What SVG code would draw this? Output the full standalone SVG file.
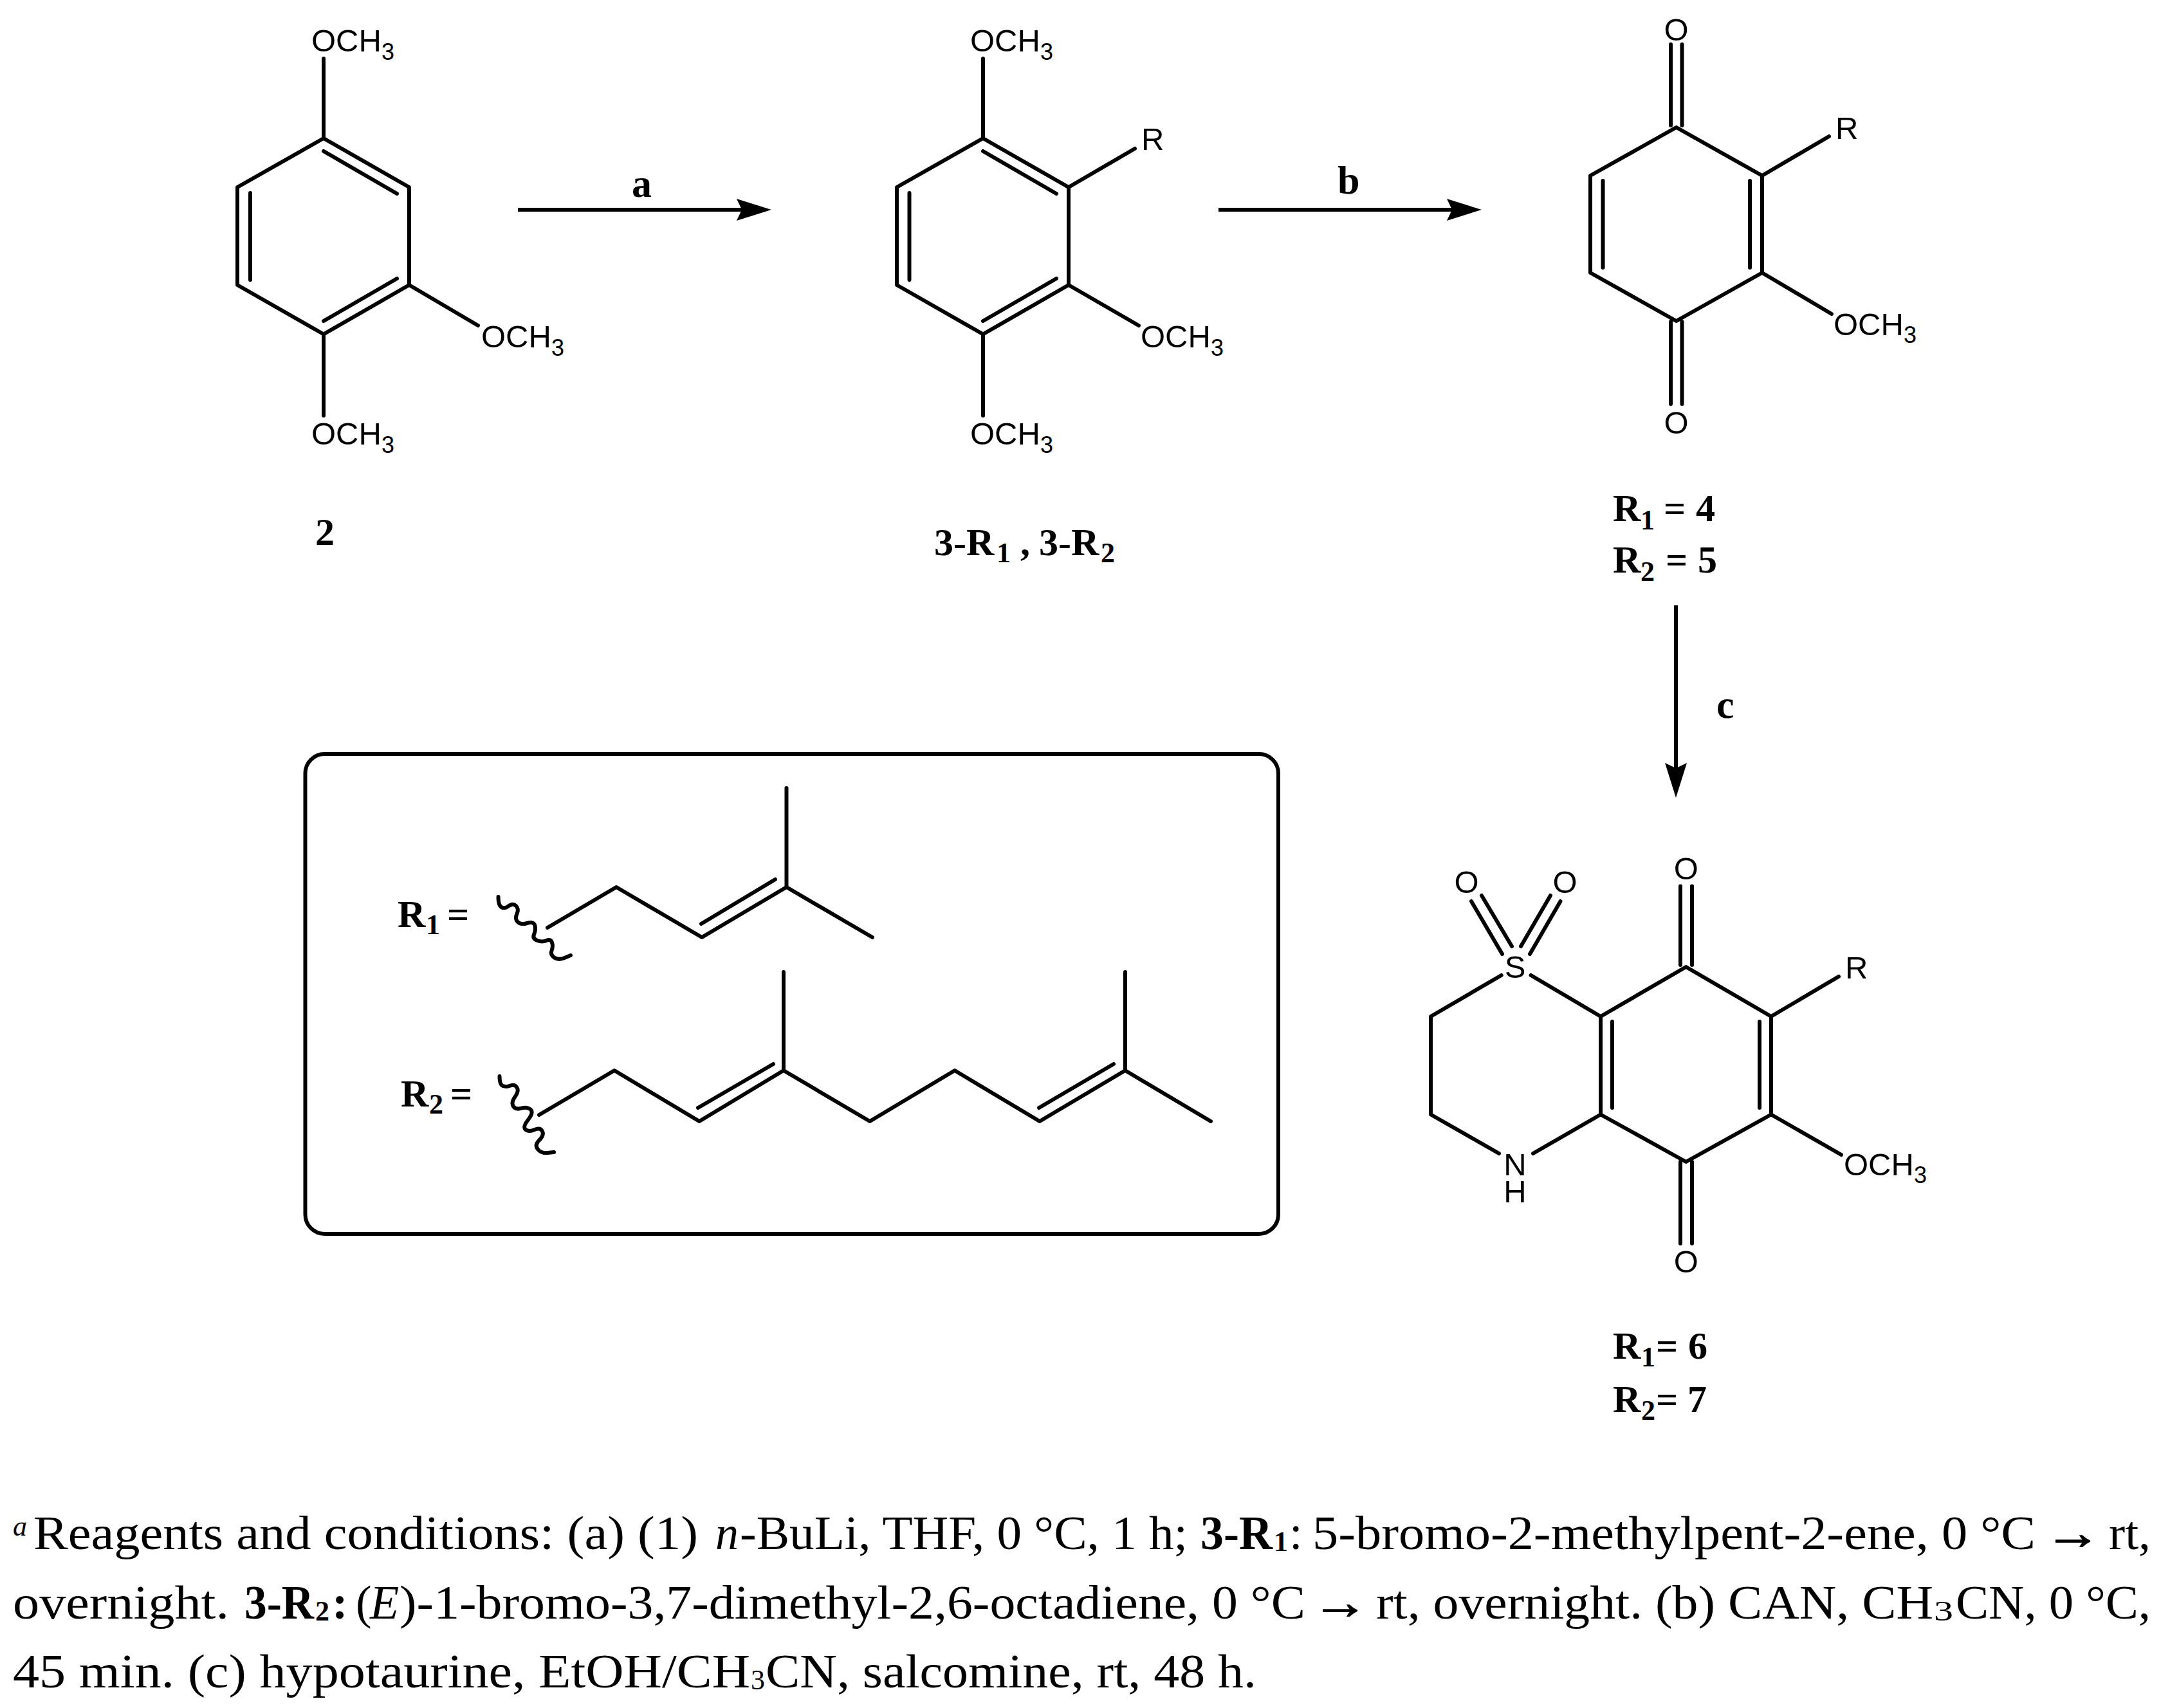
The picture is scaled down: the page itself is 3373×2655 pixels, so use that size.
<svg xmlns="http://www.w3.org/2000/svg" width="3373" height="2655" viewBox="0 0 3373 2655">
<style>
.b{fill:none;stroke:#000;stroke-width:6;stroke-linecap:round;stroke-linejoin:round}
.a{fill:none;stroke:#000;stroke-width:6;marker-end:url(#head)}
.t{font-family:"Liberation Sans",Arial,sans-serif;font-size:49px;fill:#000}
.t .s{font-size:36px}
.l{font-family:"Liberation Serif","Times New Roman",serif;font-size:60px;font-weight:700;fill:#000}
.l .s{font-size:44px}
.r{font-size:62px}
.c{font-family:"Liberation Serif","Times New Roman",serif;font-size:74px;fill:#000}
.c .i{font-style:italic}
.c .w{font-weight:700}
.c .s{font-size:44px}
.c .h{font-size:44px;font-style:italic}
.c .ar{stroke:#000;stroke-width:1.6}
</style>
<defs>
<marker id="head" markerUnits="userSpaceOnUse" viewBox="0 0 54 34" refX="34" refY="17" markerWidth="54" markerHeight="34" orient="auto"><path d="M0,0 L54,17 L0,34 L8,17 Z" fill="#000"/></marker>
</defs>
<rect width="3373" height="2655" fill="#fff"/>

<g id="connectors">
<path class="a" d="M805,326 H1179"/>
<path class="a" d="M1894,326 H2283"/>
<path class="a" d="M2605,941 V1220"/>
</g>
<g id="arrow-labels">
<text class="l r" x="982" y="306">a</text>
<text class="l r" x="2079" y="301">b</text>
<text class="l r" x="2668" y="1116">c</text>
</g>

<g id="node-2">
<path class="b" d="M503,91 V215 L636,291 V443 L503,519.5 L369,443 V291 L503,215 M503,235 L617,301 M389,300 V435 M503,499 L617,433 M503,519.5 V646 M636,443 L743,506"/>
<text class="t" x="484" y="80">OCH<tspan class="s" dy="13">3</tspan></text>
<text class="t" x="748" y="540">OCH<tspan class="s" dy="13">3</tspan></text>
<text class="t" x="484" y="691">OCH<tspan class="s" dy="13">3</tspan></text>
<text class="l" x="490" y="847">2</text>
</g>

<g id="node-3">
<path class="b" d="M1528,91 V215 L1661,291 V443 L1528,519.5 L1394,443 V291 L1528,215 M1528,235 L1642,301 M1413.5,300 V435 M1528,499 L1642,433 M1528,519.5 V646 M1661,443 L1770,506 M1661,291 L1764,231"/>
<text class="t" x="1508" y="80">OCH<tspan class="s" dy="13">3</tspan></text>
<text class="t" x="1774" y="233">R</text>
<text class="t" x="1773" y="540">OCH<tspan class="s" dy="13">3</tspan></text>
<text class="t" x="1508" y="691">OCH<tspan class="s" dy="13">3</tspan></text>
<text class="l" x="1452" y="863">3-R<tspan class="s" x="1549" dy="11">1</tspan><tspan x="1586" dy="-11">,</tspan><tspan x="1615">3-R</tspan><tspan class="s" x="1711" dy="11">2</tspan></text>
</g>

<g id="node-4-5">
<path class="b" d="M2605.6,198 L2739,273 V424 L2605.6,499 L2472,424 V273 Z M2491.5,281 V416 M2720,281 V416 M2597,69 V195 M2614.5,69 V195 M2597,500 V628 M2614.5,500 V628 M2739,273 L2843,212 M2739,424 L2847,488"/>
<text class="t" x="2605.6" y="63" text-anchor="middle">O</text>
<text class="t" x="2605.6" y="674" text-anchor="middle">O</text>
<text class="t" x="2853" y="216">R</text>
<text class="t" x="2850" y="521">OCH<tspan class="s" dy="12">3</tspan></text>
<text class="l" x="2507" y="810">R<tspan class="s" x="2550" dy="13">1</tspan><tspan x="2586" dy="-13">=</tspan><tspan x="2636">4</tspan></text>
<text class="l" x="2507" y="890">R<tspan class="s" x="2550" dy="13">2</tspan><tspan x="2589" dy="-13">=</tspan><tspan x="2639">5</tspan></text>
</g>

<g id="node-6-7">
<path class="b" d="M2620.7,1503 L2753,1580 V1732.5 L2620.7,1806 L2488,1732.5 V1580 Z M2506,1588 V1722 M2735,1588 V1722 M2379.6,1516 L2488,1580 M2333.7,1516 L2224,1580 V1732.5 L2330,1793 M2383,1793 L2488,1732.5 M2287,1401 L2335,1483 M2303,1392 L2350,1471 M2410,1392 L2364,1471 M2425.5,1401 L2378,1483 M2612,1377.5 V1500 M2630,1377.5 V1500 M2612,1806 V1933 M2630,1806 V1933 M2753,1580 L2858,1518 M2753,1732.5 L2862,1795"/>
<text class="t" x="2355" y="1520" text-anchor="middle">S</text>
<text class="t" x="2279.5" y="1388" text-anchor="middle">O</text>
<text class="t" x="2432.5" y="1388" text-anchor="middle">O</text>
<text class="t" x="2620.7" y="1367" text-anchor="middle">O</text>
<text class="t" x="2620.7" y="1978" text-anchor="middle">O</text>
<text class="t" x="2355" y="1827" text-anchor="middle">N<tspan x="2355" dy="42">H</tspan></text>
<text class="t" x="2868" y="1521">R</text>
<text class="t" x="2866" y="1827">OCH<tspan class="s" dy="12">3</tspan></text>
<text class="l" x="2507" y="2112">R<tspan class="s" x="2551" dy="12">1</tspan><tspan x="2574" dy="-12">=</tspan><tspan x="2624">6</tspan></text>
<text class="l" x="2507" y="2195">R<tspan class="s" x="2551" dy="12">2</tspan><tspan x="2574" dy="-12">=</tspan><tspan x="2623">7</tspan></text>
</g>

<g id="node-r-box">
<rect class="b" x="474.5" y="1172" width="1512.5" height="746" rx="30" ry="30"/>
<text class="l" x="618" y="1441">R<tspan class="s" x="662" dy="11">1</tspan><tspan x="695" dy="-11">=</tspan></text>
<path class="b" d="M851,1442 L958,1379 L1091,1457 L1222.5,1379 V1225 M1222.5,1379 L1356,1457 M1090,1436 L1205,1367"/>
<path class="b" d="M774.5,1394 Q774.5,1408 780,1410.5 Q785,1413 791,1408 Q797,1403.6 802,1408 Q807,1413 803.5,1420.5 Q800,1428 804.5,1433 Q809,1438 819.5,1435 Q830,1432 831.5,1439 Q833,1446 830,1452.5 Q827.5,1459 835,1462 Q843,1465 849.5,1462 Q856,1459 858,1465 Q860,1471 857.5,1477.5 Q855,1484 861.5,1488.5 Q868,1493 877.5,1489 L887,1485"/>
<text class="l" x="623" y="1720">R<tspan class="s" x="667" dy="11">2</tspan><tspan x="700" dy="-11">=</tspan></text>
<path class="b" d="M838,1733 L955,1664 L1087,1743 L1218,1664 V1511 M1218,1664 L1352,1743 L1484,1664 L1616,1743 L1749,1664 V1511 M1749,1664 L1882,1743 M1085,1722 L1202,1654 M1615,1722 L1731,1654"/>
<path class="b" d="M776.5,1673 Q776.5,1686 781.75,1688 Q787,1690 793.5,1687.5 Q800,1685 803.5,1690.5 Q807,1696 800.5,1705 Q794,1714 798,1720 Q802,1725.5 810.5,1722.7 Q819,1720 824.5,1724.5 Q830,1729 821,1740.5 Q812,1752 817,1756 Q822.5,1760 831,1756 Q840,1752 843,1758.5 Q846,1765 838,1772.5 Q830.6,1780 836,1786.5 Q841,1793 851,1792 L861,1791"/>
</g>

<g id="caption">
<text class="c" y="2408"><tspan class="h" x="20" y="2387">a</tspan><tspan x="52" y="2408" textLength="1033" lengthAdjust="spacingAndGlyphs">Reagents and conditions: (a) (1)</tspan><tspan class="i" x="1112" textLength="36" lengthAdjust="spacingAndGlyphs">n</tspan><tspan x="1150" textLength="696" lengthAdjust="spacingAndGlyphs">-BuLi, THF, 0 °C, 1 h;</tspan><tspan class="w" x="1866" textLength="112" lengthAdjust="spacingAndGlyphs">3-R</tspan><tspan class="s w" x="1980" y="2411">1</tspan><tspan x="2004" y="2408">:</tspan><tspan x="2040" textLength="1124" lengthAdjust="spacingAndGlyphs">5-bromo-2-methylpent-2-ene, 0 °C</tspan><tspan class="ar" x="3178" textLength="88" lengthAdjust="spacingAndGlyphs">→</tspan><tspan x="3278" textLength="65" lengthAdjust="spacingAndGlyphs">rt,</tspan></text>
<text class="c" y="2516"><tspan x="20" textLength="336" lengthAdjust="spacingAndGlyphs">overnight.</tspan><tspan class="w" x="380" textLength="108" lengthAdjust="spacingAndGlyphs">3-R</tspan><tspan class="s w" x="490" y="2519">2</tspan><tspan class="w" x="516" y="2516">:</tspan><tspan x="553">(</tspan><tspan class="i" x="575">E</tspan><tspan x="621" textLength="1408" lengthAdjust="spacingAndGlyphs">)-1-bromo-3,7-dimethyl-2,6-octadiene, 0 °C</tspan><tspan class="ar" x="2039" textLength="88" lengthAdjust="spacingAndGlyphs">→</tspan><tspan x="2139" textLength="866" lengthAdjust="spacingAndGlyphs">rt, overnight. (b) CAN, CH</tspan><tspan class="s" x="3006" y="2519" textLength="30" lengthAdjust="spacingAndGlyphs">3</tspan><tspan x="3040" y="2516" textLength="303" lengthAdjust="spacingAndGlyphs">CN, 0 °C,</tspan></text>
<text class="c" y="2623"><tspan x="20" textLength="1146" lengthAdjust="spacingAndGlyphs">45 min. (c) hypotaurine, EtOH/CH</tspan><tspan class="s" x="1167" y="2626">3</tspan><tspan x="1190" y="2623" textLength="763" lengthAdjust="spacingAndGlyphs">CN, salcomine, rt, 48 h.</tspan></text>
</g>
</svg>
